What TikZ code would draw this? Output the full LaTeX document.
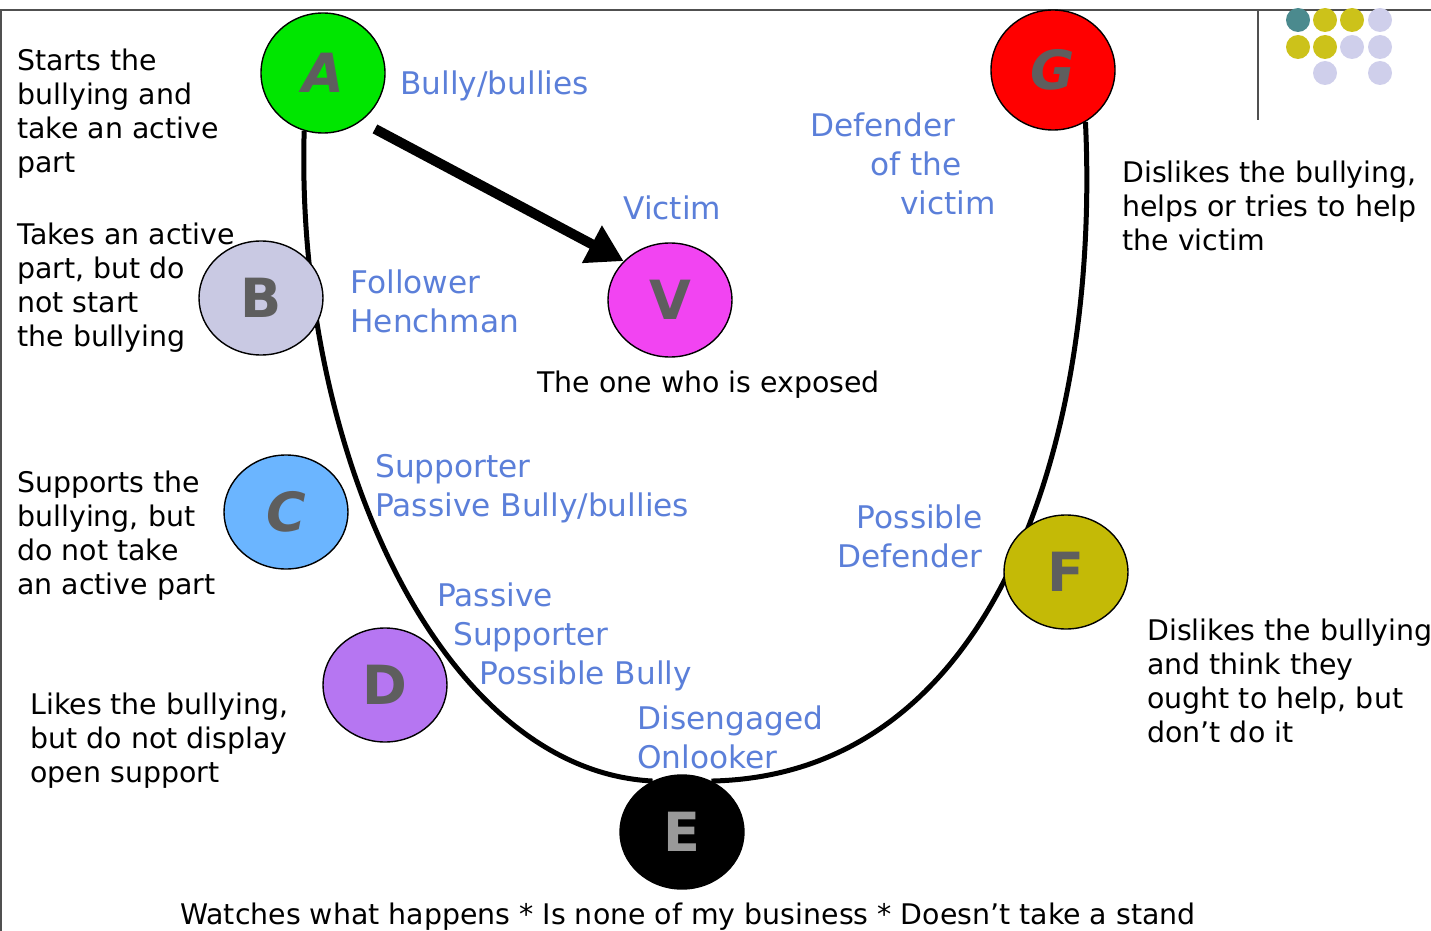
\documentclass[tikz,border=0pt]{standalone}
\usepackage{fontspec}
\setmainfont{DejaVu Sans}
\usepackage{xcolor}
\usetikzlibrary{arrows.meta,calc,positioning,backgrounds,shapes.geometric}
\definecolor{tagblue}{HTML}{5B7FD9}
\definecolor{lettergray}{HTML}{5E5E5E}
\definecolor{framegray}{HTML}{505050}
\definecolor{bullygreen}{HTML}{00E600}
\definecolor{defred}{HTML}{FF0000}
\definecolor{henchlav}{HTML}{C9C9E3}
\definecolor{victimpink}{HTML}{F244F2}
\definecolor{supblue}{HTML}{6BB5FF}
\definecolor{passpurple}{HTML}{B676F2}
\definecolor{possolive}{HTML}{C4BA06}
\definecolor{dotteal}{HTML}{4B8A8E}
\definecolor{dotyellow}{HTML}{CCC21A}
\definecolor{dotlav}{HTML}{CFCFEB}

\begin{document}
\begin{tikzpicture}[
	x=0.5pt, y=-0.5pt,
	role/.style = {shape=ellipse, draw=black, line width=0.7pt,
	minimum width=62pt, minimum height=57pt, inner sep=0pt, text=lettergray,
	font=\fontsize{27}{30}\selectfont\bfseries},
	note/.style = {anchor=north west, align=left, inner sep=0pt,
	font=\fontsize{14.2}{17}\selectfont},
	tag/.style = {anchor=north west, align=left, inner sep=0pt, text=tagblue,
	font=\fontsize{15.6}{19.5}\selectfont},
	ring/.style = {draw, line width=2.5pt},
	pusharrow/.style = {-{Triangle[length=18pt,width=20pt]}, line width=5pt,
	shorten <=8pt},
	frame/.style = {draw=framegray, line width=1.4pt}
]
\useasboundingbox (0,0) rectangle (1431,931);

\draw[frame] (0,10) -- (1431,10);
\draw[frame] (1,10) -- (1,931);
\draw[frame] (1258,10) -- (1258,120);
\foreach \x/\y/\c in {1298/20/dotteal, 1325/20/dotyellow, 1352/20/dotyellow,
	1380/20/dotlav, 1298/47/dotyellow, 1325/47/dotyellow, 1352/47/dotlav,
	1380/47/dotlav, 1325/73/dotlav, 1380/73/dotlav}
	\fill[\c] (\x,\y) circle (6pt);

\node[role, fill=bullygreen, minimum height=60pt] (A) at (323,73) {\itshape A};
\node[role, fill=defred, minimum height=60pt] (G) at (1053,70) {\itshape G};
\node[role, fill=henchlav] (B) at (261,298) {B};
\node[role, fill=victimpink] (V) at (670,300) {V};
\node[role, fill=supblue] (C) at (286,512) {\itshape C};
\node[role, fill=possolive] (F) at (1066,572) {F};
\node[role, fill=passpurple] (D) at (385,685) {D};
\node[role, fill=black, text=gray!80] (E) at (682,832) {E};

\begin{scope}[on background layer]
\draw[ring] (A.252) .. controls (295,450) and (440,770) .. (E.120);
\draw[ring] (E.60) .. controls (1000,775) and (1100,430) .. (G.-58);
\end{scope}
\draw[pusharrow] (A.-52) -- (V.140);

\node[note] (tA) at (17,49) {Starts the\\bullying and\\take an active\\part};
\node[note] (tB) at (17,223) {Takes an active\\part, but do\\not start\\the bullying};
\node[note] (tC) at (17,471) {Supports the\\bullying, but\\do not take\\an active part};
\node[note] (tD) at (30,693) {Likes the bullying,\\but do not display\\open support};
\node[note] (tG) at (1122,161) {Dislikes the bullying,\\helps or tries to help\\the victim};
\node[note] (tF) at (1147,619) {Dislikes the bullying\\and think they\\ought to help, but\\don't do it};
\node[note] (tV) at (537,371) {The one who is exposed};
\node[note, anchor=north] (tE) at (688,903) {Watches what happens * Is none of my business * Doesn't take a stand};

\node[tag] (lA) at (400,70) {Bully/bullies};
\node[tag] (lG) at (810,112) {Defender\\\hspace*{30pt}of the\\\hspace*{45pt}victim};
\node[tag] (lV) at (623,195) {Victim};
\node[tag] (lB) at (350,269) {Follower\\Henchman};
\node[tag] (lC) at (375,454) {Supporter\\Passive Bully/bullies};
\node[tag, anchor=north east, align=right] (lF) at (983,504) {Possible\\Defender};
\node[tag] (lD) at (437,582) {Passive\\\hspace*{8pt}Supporter\\\hspace*{21pt}Possible Bully};
\node[tag] (lE) at (637,705) {Disengaged\\Onlooker};
\end{tikzpicture}
\end{document}
